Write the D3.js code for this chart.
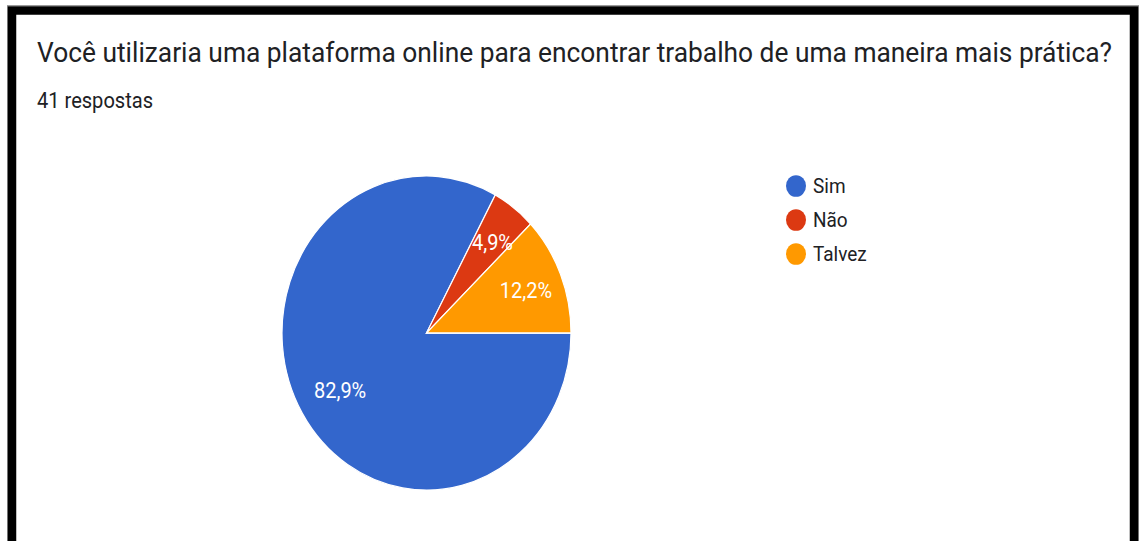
<!DOCTYPE html>
<html><head><meta charset="utf-8">
<script src="https://cdn.jsdelivr.net/npm/d3@7"></script>
<style>html,body{margin:0;padding:0;background:#fff;overflow:hidden}</style>
</head><body>
<script>
const title = "Você utilizaria uma plataforma online para encontrar trabalho de uma maneira mais prática?";
const subtitle = "41 respostas";
const categories = ["Sim", "Não", "Talvez"];
const values = [82.9, 4.9, 12.2];
const labels = ["82,9%", "4,9%", "12,2%"];
const colors = ["#3366cc", "#dc3912", "#ff9900"];

const W = 1141, H = 541, SY = 1.087;
const svg = d3.select("body").append("svg").attr("width", W).attr("height", H);

// frame
svg.append("rect").attr("x", 0).attr("y", 0).attr("width", W).attr("height", H).attr("fill", "#fff");
svg.append("rect").attr("x", 7.5).attr("y", 5.5).attr("width", 1131).attr("height", 560)
  .attr("fill", "none").attr("stroke", "#9a9a9a").attr("stroke-width", 1);
svg.append("rect").attr("x", 12).attr("y", 10.5).attr("width", 1122).attr("height", 560)
  .attr("fill", "none").attr("stroke", "#000").attr("stroke-width", 8.5);

function txt(x, y, s, size, fill, opts = {}) {
  const t = svg.append("text")
    .attr("transform", `translate(${x},${y}) scale(1,${SY})`)
    .attr("font-family", "Roboto, 'Noto Sans', sans-serif")
    .attr("font-size", size).attr("fill", fill)
    .attr("font-weight", opts.weight || 400)
    .attr("text-anchor", opts.anchor || "start")
    .text(s);
  if (opts.len) t.attr("textLength", opts.len).attr("lengthAdjust", "spacingAndGlyphs");
  return t;
}

txt(37, 62, title, 25, "#202124", {len: 1075});
txt(37, 108, subtitle, 19.5, "#202124", {len: 116});

// pie
const cx = 426.5, cy = 333, r = 144.5;
const pie = d3.pie().sort(null).value(d => d).startAngle(Math.PI / 2).endAngle(Math.PI / 2 + 2 * Math.PI);
const arcs = pie(values);
const arc = d3.arc().innerRadius(0).outerRadius(r);
const g = svg.append("g").attr("transform", `translate(${cx},${cy}) scale(1,${SY})`);
g.selectAll("path").data(arcs).join("path")
  .attr("d", arc).attr("fill", (d, i) => colors[i])
  .attr("stroke", "#fff").attr("stroke-width", 1.2);

const labelArc = d3.arc().innerRadius(r * 0.72).outerRadius(r * 0.72);
arcs.forEach((d, i) => {
  const [lx, ly] = labelArc.centroid(d);
  txt(cx + lx + 3, cy + ly * SY + 7, labels[i], 20, "#fff", {anchor: "middle"});
});

// legend
const legY = d3.scalePoint().domain(categories).range([186, 254]);
categories.forEach((c, i) => {
  svg.append("ellipse").attr("cx", 796).attr("cy", legY(c)).attr("rx", 10).attr("ry", 10 * SY)
    .attr("fill", colors[i]);
  txt(813, legY(c) + 7, c, 19, "#202124");
});
</script>
</body></html>
